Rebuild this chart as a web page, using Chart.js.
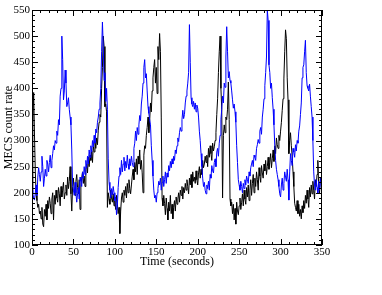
<!DOCTYPE html>
<html>
<head>
<meta charset="utf-8">
<script src="https://cdn.jsdelivr.net/npm/chart.js@4/dist/chart.umd.min.js"></script>
<style>
  html, body { margin: 0; padding: 0; background: #fff; }
  #c { display: block; }
</style>
</head>
<body>
<canvas id="c" width="382" height="295"></canvas>
<script>
const times = [
  0,1,2,3,4,5,6,7,8,9,10,11,12,13,14,15,16,17,18,19,20,21,22,23,24,25,26,27,28,29,
  30,31,32,33,34,35,36,37,38,39,40,41,42,43,44,45,46,47,48,49,50,51,52,53,54,55,56,57,58,59,
  60,61,62,63,64,65,66,67,68,69,70,71,72,73,74,75,76,77,78,79,80,81,82,83,84,85,86,87,88,89,
  90,91,92,93,94,95,96,97,98,99,100,101,102,103,104,105,106,107,108,109,110,111,112,113,114,115,116,117,118,119,
  120,121,122,123,124,125,126,127,128,129,130,131,132,133,134,135,136,137,138,139,140,141,142,143,144,145,146,147,148,149,
  150,151,152,153,154,155,156,157,158,159,160,161,162,163,164,165,166,167,168,169,170,171,172,173,174,175,176,177,178,179,
  180,181,182,183,184,185,186,187,188,189,190,191,192,193,194,195,196,197,198,199,200,201,202,203,204,205,206,207,208,209,
  210,211,212,213,214,215,216,217,218,219,220,221,222,223,224,225,226,227,228,229,230,231,232,233,234,235,236,237,238,239,
  240,241,242,243,244,245,246,247,248,249,250,251,252,253,254,255,256,257,258,259,260,261,262,263,264,265,266,267,268,269,
  270,271,272,273,274,275,276,277,278,279,280,281,282,283,284,285,286,287,288,289,290,291,292,293,294,295,296,297,298,299,
  300,301,302,303,304,305,306,307,308,309,310,311,312,313,314,315,316,317,318,319,320,321,322,323,324,325,326,327,328,329,
  330,331,332,333,334,335,336,337,338,339,340,341,342,343,344,345,346,347,348,349,350
];
const blueRate = [
  205,198,190,186,200,215,195,230,248,235,
  222,240,270,250,212,228,245,232,262,255,
  240,258,272,248,262,275,290,282,300,295,
  318,310,340,330,385,400,500,455,378,395,
  435,410,365,372,382,360,345,330,282,215,
  205,195,220,200,182,198,210,188,230,222,
  212,240,228,250,235,262,248,270,255,282,
  268,290,278,300,288,310,295,322,315,335,
  345,360,372,400,470,527,480,415,430,375,
  400,360,265,220,205,190,208,196,212,200,
  185,192,158,175,210,232,248,235,262,240,
  255,268,242,260,248,272,255,245,265,252,
  270,258,250,285,295,318,300,325,312,330,
  348,338,370,385,410,440,455,420,428,395,
  365,352,340,330,290,262,232,205,190,195,
  182,200,208,222,215,228,205,220,232,212,
  225,240,218,238,230,252,242,260,248,265,
  255,270,262,282,275,290,305,298,315,325,
  318,340,358,342,350,372,385,395,410,430,
  522,450,382,370,365,375,360,372,355,368,
  362,345,318,300,275,250,228,212,220,205,
  198,215,208,222,205,235,228,252,242,238,
  258,265,250,278,285,270,295,310,340,360,
  385,372,410,402,460,518,470,420,432,415,
  410,395,378,362,370,355,335,290,258,225,
  215,205,222,212,200,218,208,225,215,232,
  225,218,240,232,248,255,262,250,272,268,
  262,285,292,302,295,318,325,312,345,360,
  380,405,430,460,550,530,445,430,400,410,
  382,360,330,290,262,245,235,225,212,198,
  192,215,228,205,218,240,230,222,245,225,
  186,240,275,262,252,285,278,268,292,280,
  300,295,318,328,350,372,420,440,445,470,
  492,430,405,400,395,408,385,365,345,300,
  240,215,205,225,210,198,222,205,218,230,
  212
];
const blackRate = [
  205,330,392,310,240,195,185,172,178,160,
  165,150,172,140,135,168,155,178,148,185,
  170,192,180,160,188,200,148,195,178,205,
  190,182,210,198,175,212,192,205,220,188,
  200,215,195,230,208,222,250,198,165,212,
  228,205,195,222,235,210,198,225,168,215,
  228,240,218,232,212,245,255,238,268,250,
  272,262,280,258,290,278,298,285,305,292,
  320,335,350,345,400,440,500,480,365,370,
  355,172,200,188,178,205,190,182,198,175,
  185,168,195,180,160,172,122,165,190,200,
  182,205,195,212,190,218,200,225,208,198,
  215,232,245,225,258,240,265,235,270,255,
  282,245,262,238,200,272,290,285,310,325,
  345,315,338,372,355,395,420,440,455,410,
  440,390,480,455,505,470,345,190,175,195,
  180,158,190,170,148,182,165,195,160,178,
  150,172,185,165,192,178,188,200,182,205,
  195,212,188,210,200,218,205,225,212,198,
  228,215,235,210,240,222,230,218,242,225,
  215,238,250,228,245,235,262,248,255,270,
  258,272,250,285,268,290,275,262,295,280,
  288,300,315,350,380,430,470,500,400,360,
  190,310,330,315,345,340,360,412,340,188,
  175,182,160,178,148,170,140,182,165,158,
  175,190,168,182,198,175,205,188,178,210,
  192,215,185,205,225,195,218,235,200,228,
  212,240,225,205,248,232,220,252,238,228,
  255,242,262,235,250,268,245,258,275,248,
  265,282,260,290,275,305,292,285,310,300,
  318,335,358,380,418,470,512,495,420,378,
  275,300,315,290,270,240,212,180,172,165,
  185,160,178,155,168,150,175,162,185,170,
  195,180,205,188,172,210,192,215,198,222,
  205,188,225,212,235,262,215,198,230,218,
  225
];
const xTickLabels = [0,50,100,150,200,250,300,350];
const yTickLabels = [100,150,200,250,300,350,400,450,500,550];

const SERIF = "'Liberation Serif', 'DejaVu Serif', serif";

const frameTicks = {
  id: 'frameTicks',
  afterDatasetsDraw(chart) {
    const { ctx, chartArea: { left, right, top, bottom }, scales: { x, y } } = chart;
    ctx.save();
    ctx.strokeStyle = '#000';
    ctx.lineWidth = 1;
    ctx.beginPath();
    for (let v = x.min; v <= x.max; v += 10) {
      const px = Math.round(x.getPixelForValue(v)) + 0.5;
      const len = (v % 50 === 0) ? 6 : 3;
      ctx.moveTo(px, bottom); ctx.lineTo(px, bottom - len);
      ctx.moveTo(px, top); ctx.lineTo(px, top + len);
    }
    for (let v = y.min; v <= y.max; v += 10) {
      const py = Math.round(y.getPixelForValue(v)) + 0.5;
      const len = (v % 50 === 0) ? 6 : 3;
      ctx.moveTo(left, py); ctx.lineTo(left + len, py);
      ctx.moveTo(right, py); ctx.lineTo(right - len, py);
    }
    ctx.stroke();
    ctx.strokeRect(Math.round(left) + 0.5, Math.round(top) + 0.5,
                   Math.round(right - left) - 1, Math.round(bottom - top) - 1);
    ctx.restore();
  }
};

const whiteBg = {
  id: 'whiteBg',
  beforeDraw(chart) {
    const ctx = chart.ctx;
    ctx.save();
    ctx.fillStyle = '#fff';
    ctx.fillRect(0, 0, chart.width, chart.height);
    ctx.restore();
  }
};

new Chart(document.getElementById('c'), {
  type: 'line',
  data: {
    labels: times,
    datasets: [
      {
        label: 'blue',
        data: times.map((t, i) => ({ x: t, y: blueRate[i] })),
        borderColor: '#0000ff',
        borderWidth: 1,
        pointRadius: 0,
        tension: 0,
        fill: false
      },
      {
        label: 'black',
        data: times.map((t, i) => ({ x: t, y: blackRate[i] })),
        borderColor: '#000000',
        borderWidth: 1,
        pointRadius: 0,
        tension: 0,
        fill: false
      }
    ]
  },
  options: {
    responsive: false,
    animation: false,
    events: [],
    layout: { padding: { left: 0, right: 60, top: 10, bottom: 26 } },
    plugins: { legend: { display: false }, tooltip: { enabled: false } },
    scales: {
      x: {
        type: 'linear',
        min: 0, max: 350,
        afterBuildTicks: s => { s.ticks = xTickLabels.map(v => ({ value: v })); },
        ticks: { color: '#000', font: { family: SERIF, size: 11 }, padding: 1, maxRotation: 0, autoSkip: false },
        grid: { display: false, drawTicks: false },
        border: { display: false },
        title: { display: true, text: 'Time (seconds)', color: '#000', font: { family: SERIF, size: 12 }, padding: { top: 0, bottom: 0 } },
        afterFit: s => { s.height = 24; }
      },
      y: {
        type: 'linear',
        min: 100, max: 550,
        afterBuildTicks: s => { s.ticks = yTickLabels.map(v => ({ value: v })); },
        ticks: { color: '#000', font: { family: SERIF, size: 11 }, padding: 2, autoSkip: false },
        grid: { display: false, drawTicks: false },
        border: { display: false },
        title: { display: true, text: 'MECS count rate', color: '#000', font: { family: SERIF, size: 12 }, padding: { top: 2, bottom: 0 } },
        afterFit: s => { s.width = 32; }
      }
    }
  },
  plugins: [whiteBg, frameTicks]
});
</script>
</body>
</html>
